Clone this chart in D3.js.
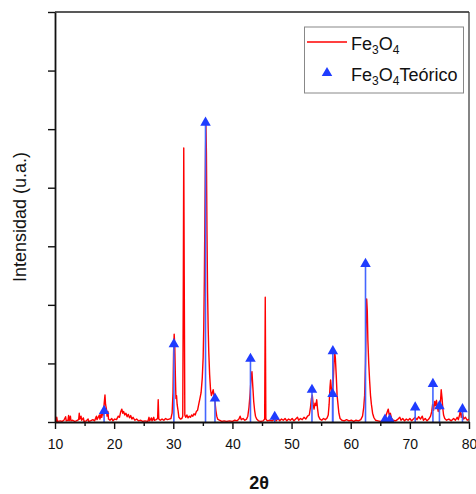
<!DOCTYPE html>
<html><head><meta charset="utf-8">
<script src="https://cdn.jsdelivr.net/npm/d3@7/dist/d3.min.js"></script>
<style>body{margin:0;background:#fff}svg{display:block}text{font-family:"Liberation Sans",Arial,sans-serif}</style>
</head><body><svg id="c" width="476" height="494"></svg>
<script>
// Measured Fe3O4 diffractogram: [2theta, intensity (a.u.)]
const fe3o4Pattern = [
[10.0,0.02],[10.2,0.01],[10.3,0.08],[10.4,0.01],[10.9,0.02],[11.2,0.01],[11.5,0.03],[11.8,0.09],[11.9,0.02],[12.2,0.03],[12.3,0.11],[12.4,0.02],[12.6,0.1],[12.7,0.02],[13.0,0.03],[13.3,0.01],[13.6,0.02],[14.0,0.04],[14.1,0.15],[14.2,0.05],[14.4,0.1],[14.5,0.03],[14.8,0.07],[14.9,0.01],[15.3,0.02],[15.6,0.05],[15.7,0.01],[16.0,0.02],[16.4,0.04],[16.7,0.02],[17.0,0.1],[17.1,0.04],[17.3,0.08],[17.5,0.12],[17.6,0.05],[17.8,0.14],[17.9,0.08],[18.1,0.18],[18.2,0.12],[18.3,0.3],[18.45,0.46],[18.55,0.3],[18.7,0.22],[18.8,0.1],[18.95,0.18],[19.05,0.05],[19.3,0.03],[19.6,0.06],[19.8,0.02],[20.1,0.05],[20.4,0.04],[20.7,0.1],[20.9,0.08],[21.1,0.17],[21.3,0.22],[21.45,0.15],[21.6,0.18],[21.8,0.12],[22.0,0.15],[22.2,0.09],[22.4,0.13],[22.6,0.07],[22.8,0.11],[23.0,0.05],[23.2,0.08],[23.5,0.03],[23.8,0.05],[24.1,0.02],[24.5,0.03],[24.8,0.01],[25.2,0.02],[25.7,0.01],[25.9,0.08],[26.0,0.02],[26.3,0.07],[26.4,0.02],[26.7,0.08],[26.8,0.03],[27.1,0.04],[27.35,0.06],[27.45,0.38],[27.55,0.05],[27.8,0.03],[28.1,0.05],[28.4,0.03],[28.7,0.06],[29.0,0.04],[29.3,0.05],[29.6,0.06],[29.8,0.15],[29.95,0.5],[30.05,1.2],[30.15,1.5],[30.25,1.3],[30.35,0.8],[30.45,0.4],[30.55,0.45],[30.65,0.3],[30.8,0.2],[30.95,0.08],[31.2,0.05],[31.45,0.06],[31.6,0.1],[31.7,2.5],[31.77,4.68],[31.85,2.5],[31.95,0.12],[32.1,0.08],[32.3,0.12],[32.5,0.07],[32.7,0.1],[32.9,0.08],[33.1,0.12],[33.3,0.1],[33.5,0.14],[33.7,0.12],[33.9,0.18],[34.1,0.2],[34.3,0.3],[34.5,0.4],[34.7,0.5],[34.9,0.75],[35.05,1.1],[35.15,1.6],[35.25,2.4],[35.35,3.6],[35.45,4.6],[35.52,5.07],[35.6,4.6],[35.7,3.2],[35.8,2.2],[35.9,1.6],[36.0,1.2],[36.15,0.8],[36.3,0.55],[36.45,0.45],[36.6,0.5],[36.75,0.55],[36.9,0.45],[37.05,0.35],[37.2,0.2],[37.35,0.1],[37.5,0.05],[37.8,0.03],[38.2,0.01],[38.6,0.02],[39.0,0.01],[39.5,0.02],[40.0,0.01],[40.4,0.03],[40.8,0.02],[41.1,0.05],[41.3,0.1],[41.5,0.04],[41.8,0.06],[42.1,0.03],[42.4,0.05],[42.6,0.1],[42.8,0.25],[43.0,0.5],[43.15,0.75],[43.3,0.86],[43.45,0.6],[43.6,0.35],[43.75,0.2],[43.9,0.1],[44.1,0.05],[44.4,0.02],[44.8,0.01],[45.2,0.02],[45.45,0.05],[45.55,2.13],[45.65,0.05],[45.9,0.02],[46.3,0.03],[46.7,0.02],[47.1,0.05],[47.4,0.02],[47.7,0.06],[48.0,0.02],[48.3,0.05],[48.6,0.03],[48.9,0.06],[49.2,0.02],[49.5,0.05],[49.8,0.03],[50.1,0.06],[50.4,0.02],[50.7,0.05],[51.0,0.08],[51.2,0.03],[51.5,0.06],[51.8,0.04],[52.1,0.08],[52.4,0.05],[52.7,0.1],[53.0,0.12],[53.2,0.25],[53.35,0.4],[53.5,0.46],[53.65,0.3],[53.8,0.22],[53.95,0.32],[54.1,0.28],[54.25,0.38],[54.4,0.22],[54.55,0.1],[54.8,0.05],[55.1,0.03],[55.4,0.06],[55.7,0.04],[56.0,0.07],[56.2,0.12],[56.35,0.3],[56.5,0.6],[56.6,0.72],[56.75,0.55],[56.9,0.45],[57.05,0.7],[57.2,1.05],[57.3,1.18],[57.4,1.1],[57.55,0.8],[57.7,0.45],[57.85,0.3],[58.0,0.15],[58.2,0.06],[58.5,0.03],[58.9,0.02],[59.3,0.04],[59.7,0.02],[60.1,0.03],[60.5,0.01],[60.9,0.03],[61.3,0.02],[61.7,0.04],[62.0,0.1],[62.2,0.25],[62.35,0.45],[62.5,1.0],[62.6,1.7],[62.7,2.1],[62.8,1.9],[62.9,1.4],[63.05,1.0],[63.2,0.7],[63.35,0.45],[63.5,0.3],[63.7,0.15],[63.9,0.08],[64.2,0.03],[64.6,0.02],[65.0,0.01],[65.4,0.02],[65.8,0.06],[66.0,0.12],[66.2,0.18],[66.35,0.22],[66.5,0.12],[66.7,0.15],[66.9,0.06],[67.2,0.03],[67.6,0.02],[68.0,0.05],[68.3,0.08],[68.5,0.03],[68.8,0.06],[69.1,0.02],[69.4,0.05],[69.7,0.03],[70.0,0.06],[70.3,0.02],[70.6,0.05],[70.9,0.08],[71.2,0.04],[71.5,0.09],[71.8,0.05],[72.1,0.1],[72.3,0.03],[72.6,0.06],[72.9,0.02],[73.2,0.05],[73.5,0.1],[73.7,0.18],[73.85,0.3],[74.0,0.2],[74.2,0.35],[74.35,0.28],[74.5,0.37],[74.65,0.25],[74.8,0.18],[74.95,0.3],[75.1,0.22],[75.3,0.55],[75.45,0.4],[75.55,0.25],[75.7,0.12],[75.9,0.06],[76.2,0.03],[76.6,0.05],[77.0,0.02],[77.4,0.06],[77.7,0.03],[78.0,0.08],[78.2,0.04],[78.4,0.12],[78.55,0.2],[78.7,0.08],[78.9,0.15],[79.1,0.05],[79.4,0.08],[79.7,0.03],[80.0,0.05]
];
// Theoretical reflections
const refPositions = [18.3, 30.1, 35.45, 37.05, 43.05, 47.15, 53.45, 56.93, 56.98, 62.5, 65.8, 66.6, 70.9, 73.9, 75.0, 78.9];
const refIntensities = [0.19, 1.33, 5.11, 0.40, 1.08, 0.09, 0.55, 0.48, 1.21, 2.70, 0.04, 0.04, 0.25, 0.65, 0.27, 0.22];
const xTicks = [10, 20, 30, 40, 50, 60, 70, 80];
const xMinorTicks = [15, 25, 35, 45, 55, 65, 75];
const yTicks = [0, 1, 2, 3, 4, 5, 6, 7];

const W = 476, H = 494;
const m = {left: 55, top: 12, right: 7, bottom: 72};
const svg = d3.select("#c");
const x = d3.scaleLinear().domain([10, 80]).range([m.left, W - m.right]);
const y = d3.scaleLinear().domain([0, 7]).range([H - m.bottom, m.top]);

svg.append("defs").append("clipPath").attr("id", "clip")
  .append("rect").attr("x", m.left).attr("y", m.top)
  .attr("width", W - m.left - m.right).attr("height", H - m.top - m.bottom);

// frame top/right
svg.append("line").attr("x1", m.left).attr("x2", W - m.right).attr("y1", m.top).attr("y2", m.top)
  .attr("stroke", "#222").attr("stroke-width", 1.5);
svg.append("line").attr("x1", W - m.right).attr("x2", W - m.right).attr("y1", m.top).attr("y2", H - m.bottom)
  .attr("stroke", "#333").attr("stroke-width", 1.2);

// red pattern
const line = d3.line().x(d => x(d[0])).y(d => y(d[1]));
svg.append("path").datum(fe3o4Pattern).attr("d", line)
  .attr("clip-path", "url(#clip)")
  .attr("fill", "none").attr("stroke", "#ff0000").attr("stroke-width", 1.4).attr("stroke-linejoin", "round");

// theoretical sticks
const refs = refPositions.map((p, i) => ({p, v: refIntensities[i]}));
svg.append("g").selectAll("line").data(refs).join("line")
  .attr("x1", d => x(d.p)).attr("x2", d => x(d.p))
  .attr("y1", y(0)).attr("y2", d => y(d.v))
  .attr("stroke", "#4466ff").attr("stroke-width", 1.6);
const tri = d3.symbol().type(d3.symbolTriangle).size(48);
svg.append("g").selectAll("path").data(refs).join("path")
  .attr("d", tri).attr("transform", d => `translate(${x(d.p)},${y(d.v)})`)
  .attr("fill", "#1f3cff");

// axes
const gx = svg.append("g").attr("transform", `translate(0,${H - m.bottom})`)
  .call(d3.axisBottom(x).tickValues(xTicks).tickSize(7).tickPadding(10).tickSizeOuter(0));
gx.selectAll("text").attr("font-size", 14).attr("fill", "#111");
gx.select(".domain").attr("stroke", "#111").attr("stroke-width", 1.8);
gx.selectAll(".tick line").attr("stroke", "#111").attr("stroke-width", 1.4);
svg.append("g").attr("transform", `translate(0,${H - m.bottom})`)
  .call(d3.axisBottom(x).tickValues(xMinorTicks).tickSize(4).tickFormat("").tickSizeOuter(0))
  .call(g => g.select(".domain").remove())
  .selectAll(".tick line").attr("stroke", "#111").attr("stroke-width", 1.4);

const gy = svg.append("g").attr("transform", `translate(${m.left},0)`)
  .call(d3.axisLeft(y).tickValues(yTicks).tickSize(7).tickFormat("").tickSizeOuter(0));
gy.select(".domain").attr("stroke", "#111").attr("stroke-width", 1.8);
gy.selectAll(".tick line").attr("stroke", "#111").attr("stroke-width", 1.4);

// axis titles
svg.append("text").attr("transform", `translate(26,${(m.top + H - m.bottom) / 2}) rotate(-90)`)
  .attr("text-anchor", "middle").attr("font-size", 18).attr("fill", "#111").text("Intensidad (u.a.)");
svg.append("text").attr("x", 259).attr("y", 489).attr("text-anchor", "middle")
  .attr("font-size", 18).attr("font-weight", "bold").attr("fill", "#111").text("2θ");

// legend
const lg = svg.append("g");
lg.append("rect").attr("x", 304.5).attr("y", 27).attr("width", 159).attr("height", 66)
  .attr("fill", "#fff").attr("stroke", "#888").attr("stroke-width", 1);
lg.append("line").attr("x1", 307).attr("x2", 347).attr("y1", 42).attr("y2", 42)
  .attr("stroke", "#ff0000").attr("stroke-width", 1.4);
lg.append("path").attr("d", tri).attr("transform", "translate(327,73)").attr("fill", "#1f3cff");
function chem(g, xx, yy, parts) {
  const t = g.append("text").attr("x", xx).attr("y", yy).attr("font-size", 18).attr("fill", "#111");
  let prevSub = false;
  parts.forEach(([s, sub]) => {
    const ts = t.append("tspan").text(s);
    if (sub) ts.attr("font-size", 12);
    ts.attr("dy", sub && !prevSub ? 4 : (!sub && prevSub ? -4 : 0));
    prevSub = !!sub;
  });
}
chem(lg, 351, 50, [["Fe"], ["3", 1], ["O"], ["4", 1]]);
chem(lg, 351, 81, [["Fe"], ["3", 1], ["O"], ["4", 1], ["Teórico"]]);
</script></body></html>
